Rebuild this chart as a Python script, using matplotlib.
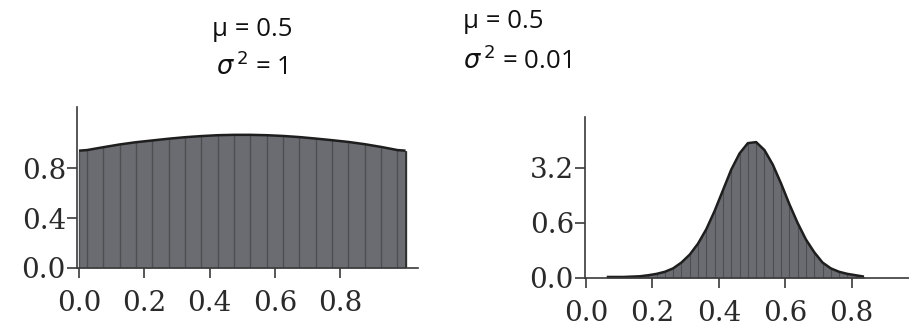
import numpy as np
import matplotlib
matplotlib.use("Agg")
import matplotlib.pyplot as plt

# density values
left_x = [0.00, 0.025, 0.075, 0.125, 0.175, 0.225, 0.275, 0.325, 0.375, 0.425, 0.475,
          0.525, 0.575, 0.625, 0.675, 0.725, 0.775, 0.825, 0.875, 0.925, 0.975, 1.00]
left_y = [0.940, 0.945, 0.968, 0.990, 1.008, 1.022, 1.036, 1.048, 1.057, 1.064, 1.067,
          1.067, 1.064, 1.058, 1.049, 1.037, 1.024, 1.010, 0.992, 0.970, 0.945, 0.940]

right_x = [0.0625, 0.0875, 0.1125, 0.1375, 0.1625, 0.1875, 0.2125, 0.2375,
           0.2625, 0.2875, 0.3125, 0.3375, 0.3625, 0.3875, 0.4125, 0.4375,
           0.4625, 0.4875, 0.5125, 0.5375, 0.5625, 0.5875, 0.6125, 0.6375,
           0.6625, 0.6875, 0.7125, 0.7375, 0.7625, 0.7875, 0.8125, 0.8375]
right_y = [0.03, 0.03, 0.03, 0.04, 0.05, 0.08, 0.12, 0.18,
           0.28, 0.45, 0.68, 1.00, 1.42, 1.95, 2.55, 3.15,
           3.62, 3.92, 3.95, 3.72, 3.30, 2.75, 2.15, 1.60,
           1.12, 0.75, 0.45, 0.28, 0.18, 0.12, 0.08, 0.04]

xticks = [0.0, 0.2, 0.4, 0.6, 0.8]
xtick_labels = ["0.0", "0.2", "0.4", "0.6", "0.8"]
left_yticks = [0.0, 0.4, 0.8]
left_ytick_labels = ["0.0", "0.4", "0.8"]
right_yticks = [0.0, 1.6, 3.2]
right_ytick_labels = ["0.0", "0.6", "3.2"]

titles = [("\u03bc = 0.5", r"$\sigma^{\,2}$ = 1"), ("\u03bc = 0.5", r"$\sigma^{\,2}$ = 0.01")]

plt.rcParams['mathtext.fontset'] = 'dejavusans'

W, H = 909, 334
fig = plt.figure(figsize=(W / 100, H / 100), dpi=100)

fill_color = '#6a6c71'
stripe_color = '#4c4e52'
spine_color = '#3a3a3a'


def style_axis(ax, yticks, ylabels):
    for s in ['top', 'right']:
        ax.spines[s].set_visible(False)
    for s in ['left', 'bottom']:
        ax.spines[s].set_color(spine_color)
        ax.spines[s].set_linewidth(1.2)
    ax.set_xticks(xticks)
    ax.set_xticklabels(xtick_labels)
    ax.set_yticks(yticks)
    ax.set_yticklabels(ylabels)
    ax.tick_params(direction='out', length=7, width=1.2, color=spine_color,
                   labelsize=20, labelcolor='#2a2a2a')
    ax.tick_params(axis='x', pad=9)
    ax.tick_params(axis='y', pad=1)
    for lab in ax.get_xticklabels() + ax.get_yticklabels():
        lab.set_family('DejaVu Serif')


def density(ax, x, y, stripe_lw):
    ax.fill_between(x, y, 0, color=fill_color, lw=0)
    ax.vlines(x, 0, y, color=stripe_color, lw=stripe_lw)
    ax.plot(x, y, color='#1e1e1e', lw=1.8, solid_capstyle='butt')


# left panel
ax1 = fig.add_axes([77 / W, (H - 268) / H, 341 / W, 161 / H])
density(ax1, left_x, left_y, 1.0)
ax1.vlines(left_x[-1], 0, left_y[-1], color='#2a2a2a', lw=1.2)
ax1.set_xlim(-0.006, 1.038)
ax1.set_ylim(0, 1.29)
style_axis(ax1, left_yticks, left_ytick_labels)

# right panel
ax2 = fig.add_axes([585 / W, (H - 278) / H, 324 / W, 161 / H])
density(ax2, right_x, right_y, 0.8)
ax2.set_xlim(-0.003, 0.973)
ax2.set_ylim(0, 4.68)
style_axis(ax2, right_yticks, right_ytick_labels)

# parameter labels
title_font = dict(family='Open Sans', fontsize=18.5, color='#111111', va='center', ha='left')
fig.text(212 / W, 1 - 29 / H, titles[0][0], **title_font)
fig.text(216 / W, 1 - 67 / H, titles[0][1], **title_font)
fig.text(463 / W, 1 - 21 / H, titles[1][0], **title_font)
fig.text(463 / W, 1 - 61 / H, titles[1][1], **title_font)

fig.savefig("out.png", dpi=100)
